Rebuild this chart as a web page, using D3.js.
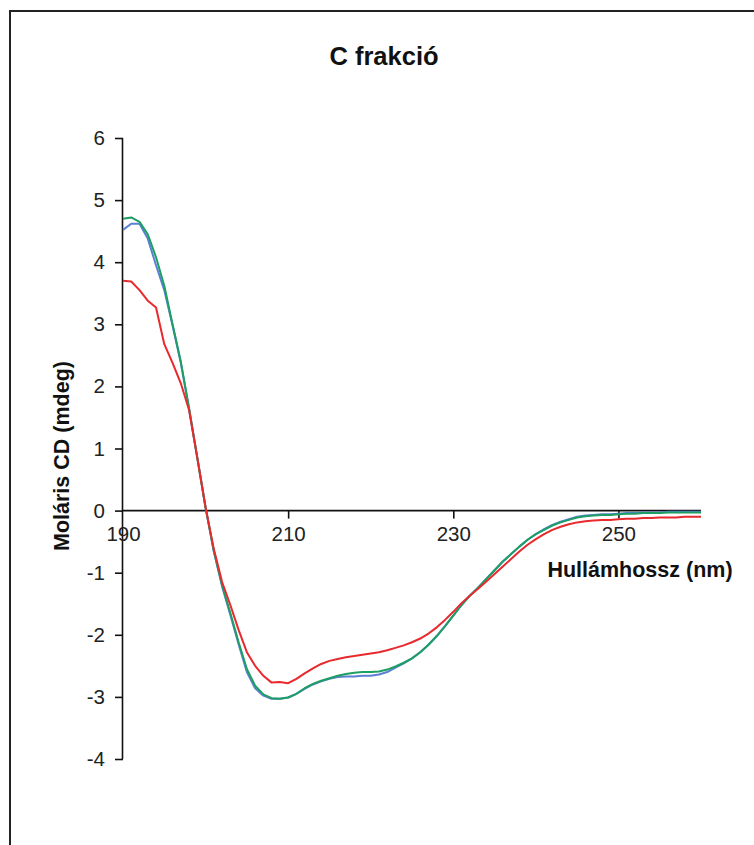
<!DOCTYPE html>
<html>
<head>
<meta charset="utf-8">
<script src="https://cdn.jsdelivr.net/npm/d3@7"></script>
<style>
  body { margin: 0; background: #fff; }
  text { font-family: "Liberation Sans", Arial, sans-serif; }
</style>
</head>
<body>
<svg width="754" height="845"></svg>
<script>
const svg = d3.select('svg');
const width = +svg.attr('width');
const height = +svg.attr('height');

// wavelength in nm, 1 nm steps
const wavelengths = d3.range(190, 261);

const blueValues = [
  4.52, 4.62, 4.62, 4.38, 3.95, 3.55, 2.98, 2.38, 1.64, 0.85,
  0.05, -0.66, -1.22, -1.68, -2.15, -2.60, -2.86, -2.98, -3.03, -3.03,
  -3.01, -2.95, -2.87, -2.80, -2.75, -2.71, -2.68, -2.67, -2.67, -2.66,
  -2.66, -2.64, -2.60, -2.53, -2.46, -2.38, -2.28, -2.16, -2.02, -1.86,
  -1.69, -1.52, -1.37, -1.24, -1.10, -0.96, -0.82, -0.70, -0.58, -0.47,
  -0.38, -0.30, -0.23, -0.18, -0.14, -0.10, -0.08, -0.07, -0.06, -0.06,
  -0.05, -0.04, -0.04, -0.03, -0.03, -0.03, -0.02, -0.02, -0.02, -0.02,
  -0.02
];

const greenValues = [
  4.70, 4.72, 4.65, 4.45, 4.08, 3.62, 3.00, 2.40, 1.65, 0.85,
  0.05, -0.65, -1.20, -1.65, -2.12, -2.55, -2.82, -2.96, -3.02, -3.03,
  -3.01, -2.95, -2.86, -2.79, -2.74, -2.70, -2.66, -2.63, -2.61, -2.60,
  -2.60, -2.59, -2.56, -2.51, -2.45, -2.38, -2.28, -2.16, -2.02, -1.86,
  -1.69, -1.52, -1.37, -1.24, -1.10, -0.96, -0.82, -0.70, -0.58, -0.47,
  -0.38, -0.31, -0.24, -0.19, -0.15, -0.11, -0.09, -0.08, -0.07, -0.07,
  -0.06, -0.05, -0.05, -0.04, -0.04, -0.04, -0.03, -0.03, -0.03, -0.03,
  -0.03
];

const redValues = [
  3.70, 3.69, 3.55, 3.38, 3.27, 2.68, 2.38, 2.05, 1.62, 0.85,
  0.05, -0.62, -1.15, -1.52, -1.92, -2.28, -2.50, -2.66, -2.77, -2.76,
  -2.78, -2.71, -2.62, -2.54, -2.47, -2.42, -2.39, -2.36, -2.34, -2.32,
  -2.30, -2.28, -2.25, -2.21, -2.17, -2.12, -2.06, -1.98, -1.88, -1.76,
  -1.63, -1.49, -1.37, -1.26, -1.14, -1.02, -0.90, -0.78, -0.66, -0.55,
  -0.46, -0.38, -0.31, -0.26, -0.22, -0.19, -0.17, -0.16, -0.15, -0.15,
  -0.14, -0.13, -0.13, -0.12, -0.12, -0.11, -0.11, -0.11, -0.10, -0.10,
  -0.10
];

const series = [
  { name: 'blue', color: '#5b7fd2', values: blueValues },
  { name: 'green', color: '#1d9e62', values: greenValues },
  { name: 'red', color: '#e8292d', values: redValues }
];

const xTicks = [190, 210, 230, 250];
const yTicks = [-4, -3, -2, -1, 0, 1, 2, 3, 4, 5, 6];

const title = 'C frakció';
const xLabel = 'Hullámhossz (nm)';
const yLabel = 'Moláris CD (mdeg)';

svg.append('rect')
  .attr('width', width)
  .attr('height', height)
  .attr('fill', '#fff');

// frame (only top and left show in the picture)
svg.append('rect')
  .attr('x', 10)
  .attr('y', 11)
  .attr('width', 800)
  .attr('height', 900)
  .attr('fill', 'none')
  .attr('stroke', '#222')
  .attr('stroke-width', 2);

const xScale = d3.scaleLinear()
  .domain([190, 260])
  .range([123, 701]);

const yScale = d3.scaleLinear()
  .domain([-4, 6])
  .range([759, 138]);

svg.append('text')
  .attr('x', 384)
  .attr('y', 65)
  .attr('text-anchor', 'middle')
  .attr('font-size', 25.5)
  .attr('font-weight', 'bold')
  .attr('fill', '#111')
  .text(title);

// y axis
const yAxis = d3.axisLeft(yScale)
  .tickValues(yTicks)
  .tickSize(8)
  .tickPadding(10)
  .tickFormat(d => String(d));

const yAxisG = svg.append('g')
  .attr('transform', `translate(${xScale(190)},0)`)
  .call(yAxis);
yAxisG.select('.domain').attr('d', `M-0.5,${yScale(6)}V${yScale(-4)}`);

// x axis along y = 0
const xAxis = d3.axisBottom(xScale)
  .tickValues(xTicks)
  .tickSize(8)
  .tickPadding(8)
  .tickFormat(d => String(d));

const xAxisG = svg.append('g')
  .attr('transform', `translate(0,${yScale(0)})`)
  .call(xAxis);
xAxisG.select('.domain').attr('d', `M${xScale(190)},0H${xScale(260)}`);

[yAxisG, xAxisG].forEach(g => {
  g.selectAll('.domain, line')
    .attr('stroke', '#111')
    .attr('stroke-width', 1.6);
  g.selectAll('text')
    .attr('font-size', 20.5)
    .attr('font-family', '"Liberation Sans", Arial, sans-serif')
    .attr('fill', '#222');
});

// the 190 label hides the tick under it
xAxisG.selectAll('.tick').filter(d => d === 190).select('line').remove();

const line = d3.line()
  .x((d, i) => xScale(wavelengths[i]))
  .y(d => yScale(d));

svg.append('g')
  .selectAll('path')
  .data(series)
  .enter().append('path')
    .attr('d', d => line(d.values))
    .attr('fill', 'none')
    .attr('stroke', d => d.color)
    .attr('stroke-width', 2)
    .attr('stroke-linejoin', 'round');

svg.append('text')
  .attr('x', 640)
  .attr('y', 577)
  .attr('text-anchor', 'middle')
  .attr('font-size', 21.5)
  .attr('font-weight', 'bold')
  .attr('fill', '#111')
  .text(xLabel);

svg.append('text')
  .attr('transform', 'translate(69,456) rotate(-90)')
  .attr('text-anchor', 'middle')
  .attr('font-size', 21.5)
  .attr('font-weight', 'bold')
  .attr('fill', '#111')
  .text(yLabel);
</script>
</body>
</html>
